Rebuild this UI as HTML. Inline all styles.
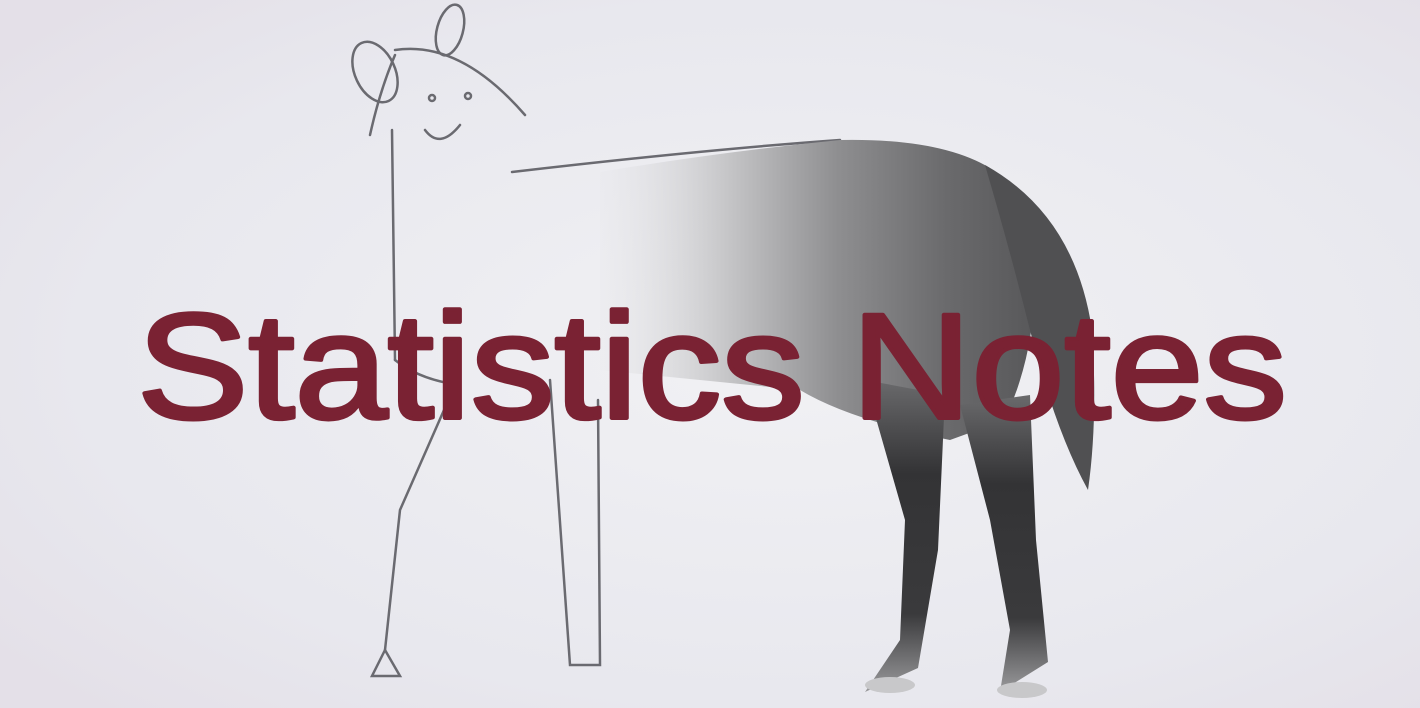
<!DOCTYPE html>
<html><head><meta charset="utf-8"><style>
html,body{margin:0;padding:0;width:1420px;height:708px;overflow:hidden;background:#e9e6ec}
svg{display:block}
</style></head><body>
<svg width="1420" height="708" viewBox="0 0 1420 708">
<defs>
<radialGradient id="bg" cx="0.55" cy="0.5" r="0.7">
<stop offset="0" stop-color="#f1f1f4"/><stop offset="0.7" stop-color="#e8e8ee"/><stop offset="1" stop-color="#e4e0e8"/>
</radialGradient>
<linearGradient id="body" x1="0" y1="0" x2="1" y2="0">
<stop offset="0" stop-color="#e6e6e8" stop-opacity="0.2"/><stop offset="0.3" stop-color="#c4c4c6"/><stop offset="0.55" stop-color="#8e8e90"/><stop offset="0.8" stop-color="#6a6a6c"/><stop offset="1" stop-color="#58585a"/>
</linearGradient>
<linearGradient id="leg" x1="0" y1="0" x2="0" y2="1">
<stop offset="0" stop-color="#6a6a6c"/><stop offset="0.3" stop-color="#333335"/><stop offset="0.75" stop-color="#3a3a3c"/><stop offset="1" stop-color="#9a9a9c"/>
</linearGradient>
</defs>
<rect width="1420" height="708" fill="url(#bg)"/>
<g fill="none" stroke="#6a6a70" stroke-width="2.5" stroke-linecap="round">
<ellipse cx="375" cy="72" rx="20" ry="32" transform="rotate(-25 375 72)"/>
<ellipse cx="450" cy="30" rx="13" ry="26" transform="rotate(15 450 30)"/>
<path d="M395 50 Q460 40 525 115"/>
<path d="M395 55 Q380 90 370 135"/>
<path d="M425 130 Q440 150 460 125"/>
<circle cx="468" cy="96" r="3"/><circle cx="432" cy="98" r="3"/>
<path d="M392 130 L395 360"/>
<path d="M512 172 Q700 150 840 140"/>
<path d="M395 360 Q420 380 460 385"/>
<path d="M455 385 L400 510 L385 650"/>
<path d="M385 650 L372 676 L400 676 Z"/>
<path d="M550 380 L570 665 L600 665 L598 400"/>
</g>
<g>
<path d="M600 172 Q720 152 840 140 Q940 138 990 168 L1030 240 Q1045 330 1005 420 L950 440 Q850 420 800 390 Q700 380 600 370 Z" fill="url(#body)"/>
<path d="M985 165 Q1075 215 1092 330 Q1098 420 1088 490 Q1055 430 1030 330 Q1010 250 985 165 Z" fill="#505052"/>
<path d="M865 380 L945 395 L938 550 L918 668 L865 692 L900 640 L905 520 Z" fill="url(#leg)"/>
<path d="M960 405 L1030 395 L1036 540 L1048 662 L1000 692 L1010 630 L990 520 Z" fill="url(#leg)"/>
<ellipse cx="890" cy="685" rx="25" ry="8" fill="#c8c8ca"/>
<ellipse cx="1022" cy="690" rx="25" ry="8" fill="#c8c8ca"/>
</g>
<text x="137" y="418" font-family="'Liberation Sans', sans-serif" font-size="150" fill="#7a2233" stroke="#7a2233" stroke-width="4" stroke-linejoin="round" textLength="1150" lengthAdjust="spacingAndGlyphs">Statistics Notes</text>
</svg>
</body></html>
